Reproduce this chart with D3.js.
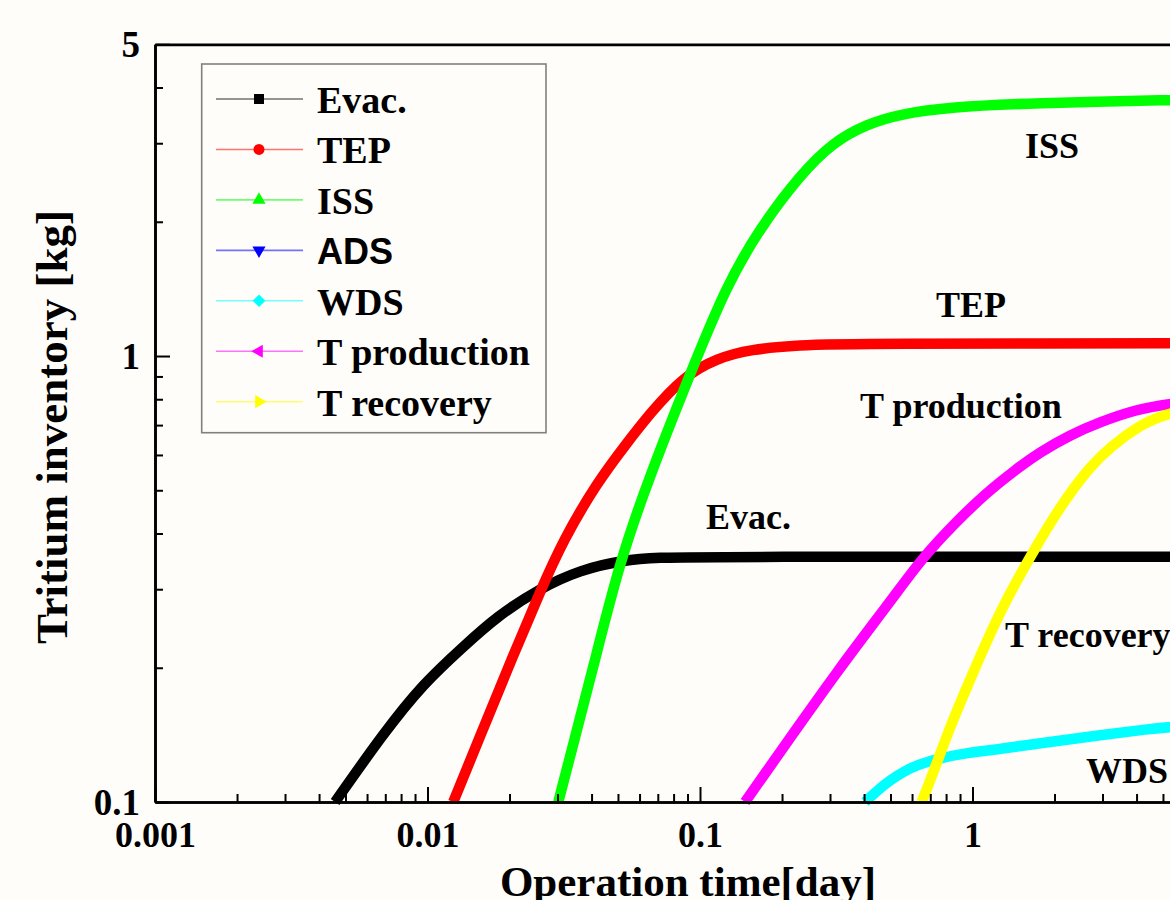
<!DOCTYPE html>
<html><head><meta charset="utf-8">
<script src="https://cdn.jsdelivr.net/npm/d3@7"></script>
<style>
body{margin:0;background:#fefdf9;}
svg{display:block;}
text{font-family:"Liberation Serif","Times New Roman",serif;font-weight:bold;fill:#000;}
</style>
</head><body>
<svg id="chart" width="1170" height="900"></svg>
<script>
// ---- data (operation time [day], tritium inventory [kg]) ----
const seriesNames = ["Evac.","TEP","ISS","ADS","WDS","T production","T recovery"];
const seriesColors = ["#000000","#ff0000","#00ff00","#0000ff","#00ffff","#ff00ff","#ffff00"];

const evacTime = [0.00458,0.00689,0.00966,0.01354,0.0179,0.02586,0.0363,0.0523,0.0713,0.1,10];
const evacInv  = [0.1,0.1426,0.1845,0.223,0.2603,0.3014,0.3313,0.3488,0.3534,0.3548,0.3548];

const tepTime = [0.01243,0.01602,0.02065,0.02586,0.0315,0.04178,0.0538,0.0656,0.0868,0.1152,0.1526,0.2328,0.3549,10];
const tepInv  = [0.1,0.1462,0.2136,0.2957,0.3868,0.519,0.637,0.744,0.899,0.988,1.035,1.058,1.066,1.068];

const issTime = [0.0302,0.0348,0.0405,0.0509,0.0656,0.0919,0.1253,0.166,0.2328,0.3078,0.41,0.542,0.827,1.667,5.306,10];
const issInv  = [0.1,0.1398,0.1997,0.3488,0.541,0.911,1.443,1.936,2.546,3.018,3.313,3.487,3.617,3.692,3.75,3.77];

const adsTime = [];
const adsInv  = [];

const wdsTime = [0.4032,0.4498,0.4983,0.5652,0.624,0.7597,0.952,1.261,1.925,2.937,4.482,5.306,10];
const wdsInv  = [0.1,0.1064,0.112,0.1174,0.121,0.1255,0.1288,0.1315,0.1363,0.1413,0.1458,0.1473,0.152];

const tprodTime = [0.1463,0.2016,0.2328,0.3183,0.41,0.5195,0.6583,0.8626,1.111,1.432,1.769,2.279,2.937,3.947,5.306,10];
const tprodInv  = [0.1,0.1322,0.1496,0.1957,0.2405,0.2911,0.3541,0.4222,0.4905,0.555,0.609,0.665,0.711,0.757,0.7847,0.81];

const trecTime = [0.651,0.7286,0.827,0.9546,1.111,1.316,1.626,1.925,2.279,2.699,3.196,4.119,5.306,10];
const trecInv  = [0.1,0.1192,0.1473,0.1811,0.2249,0.2809,0.3541,0.4222,0.493,0.5639,0.625,0.7003,0.7527,0.79];

const xTickValues = [0.001,0.01,0.1,1,10];
const xTickLabels = ["0.001","0.01","0.1","1","10"];
const yTickValues = [0.1,1,5];
const yTickLabels = ["0.1","1","5"];

// in-plot annotations: text, anchor time, anchor inventory (text baseline start)
const annoText = ["Evac.","TEP","ISS","T production","T recovery","WDS"];
const annoTime = [0.1052,0.7347,1.558,0.3866,1.316,2.609];
const annoInv  = [0.4094,1.223,2.78,0.7261,0.2226,0.1103];

// ---- layout ----
const svg = d3.select("#chart");
const W = 1170, H = 900;
svg.append("rect").attr("width",W).attr("height",H).attr("fill","#fefdf9");

const x = d3.scaleLog().domain([0.001,10]).range([155,1245]);
const y = d3.scaleLog().domain([0.1,5]).range([802,44.3]);

const series = [
  [evacTime,evacInv],[tepTime,tepInv],[issTime,issInv],[adsTime,adsInv],
  [wdsTime,wdsInv],[tprodTime,tprodInv],[trecTime,trecInv]
];

// minor ticks
const xMinor = [];
for (const d of [0.001,0.01,0.1,1]) for (let k=2;k<=9;k++) xMinor.push(d*k);
const yMinor = [];
for (const d of [0.1,1]) for (let k=2;k<=9;k++) if (d*k<5) yMinor.push(d*k);

// curves
const line = d3.line().x(d=>x(d[0])).y(d=>y(d[1])).curve(d3.curveBasis);
series.forEach((s,i)=>{
  if (!s[0].length) return;
  const pts = s[0].map((t,j)=>[t,s[1][j]]);
  svg.append("path").attr("d",line(pts)).attr("fill","none")
    .attr("stroke",seriesColors[i]).attr("stroke-width",10.5)
    .attr("stroke-linecap","butt").attr("stroke-linejoin","round");
});

// axes
const gx = svg.append("g").attr("transform","translate(0,802)");
gx.call(d3.axisBottom(x).tickValues(xMinor).tickSizeInner(-8).tickSizeOuter(0).tickFormat(""));
const gx2 = svg.append("g").attr("transform","translate(0,802)");
gx2.call(d3.axisBottom(x).tickValues(xTickValues).tickSizeInner(-15).tickSizeOuter(0)
  .tickFormat((d,i)=>xTickLabels[i]));
gx2.selectAll("text").attr("y",45).attr("dy",null).attr("font-size",36)
  .style("font-family","Liberation Serif").style("font-weight","bold");

const gy = svg.append("g").attr("transform","translate(155,0)");
gy.call(d3.axisLeft(y).tickValues(yMinor).tickSizeInner(-8).tickSizeOuter(0).tickFormat(""));
const gy2 = svg.append("g").attr("transform","translate(155,0)");
gy2.call(d3.axisLeft(y).tickValues(yTickValues).tickSizeInner(-15).tickSizeOuter(0)
  .tickFormat((d,i)=>yTickLabels[i]));
gy2.selectAll("text").attr("x",-15).attr("dy","0.34em").attr("font-size",37)
  .style("font-family","Liberation Serif").style("font-weight","bold");

svg.selectAll(".domain").attr("stroke","#000").attr("stroke-width",2.6);
svg.selectAll(".tick line").attr("stroke","#000").attr("stroke-width",2);

// top frame
const gt = svg.append("g").attr("transform","translate(0,44.3)");
gt.call(d3.axisTop(x).tickValues([]).tickSizeOuter(0));
gt.select(".domain").attr("stroke","#000").attr("stroke-width",2.8);

// axis titles
svg.append("text").attr("x",688).attr("y",896).attr("text-anchor","middle")
  .attr("font-size",43).text("Operation time[day]");
svg.append("text").attr("transform","translate(67,427) rotate(-90)").attr("text-anchor","middle")
  .attr("font-size",45).text("Tritium inventory [kg]");

// annotations
annoText.forEach((t,i)=>{
  svg.append("text").attr("x",x(annoTime[i])).attr("y",y(annoInv[i]))
    .attr("font-size",36).text(t);
});

// legend
const lg = svg.append("g");
lg.append("rect").attr("x",201.7).attr("y",64).attr("width",344.3).attr("height",368.7)
  .attr("fill","none").attr("stroke","#808080").attr("stroke-width",1.6);
const markerTypes = [
  [d3.symbolSquare,100,0],[d3.symbolCircle,95,0],[d3.symbolTriangle,75,0],
  [d3.symbolTriangle,75,180],[d3.symbolSquare,80,45],[d3.symbolTriangle,75,-90],[d3.symbolTriangle,75,90]
];
seriesNames.forEach((n,i)=>{
  const ry = 99 + i*50.45;
  lg.append("line").attr("x1",216).attr("x2",303).attr("y1",ry).attr("y2",ry)
    .attr("stroke",seriesColors[i]).attr("stroke-opacity",0.55).attr("stroke-width",1.6);
  lg.append("path").attr("d",d3.symbol().type(markerTypes[i][0]).size(markerTypes[i][1])())
    .attr("transform",`translate(259,${ry}) rotate(${markerTypes[i][2]})`)
    .attr("fill",seriesColors[i]);
  const t = lg.append("text").attr("x",317).attr("y",ry+14).attr("font-size",38).text(n);
  if (n==="ADS") t.style("font-family","'Liberation Sans',Arial,sans-serif").attr("font-size",36);
});
</script>
</body></html>
